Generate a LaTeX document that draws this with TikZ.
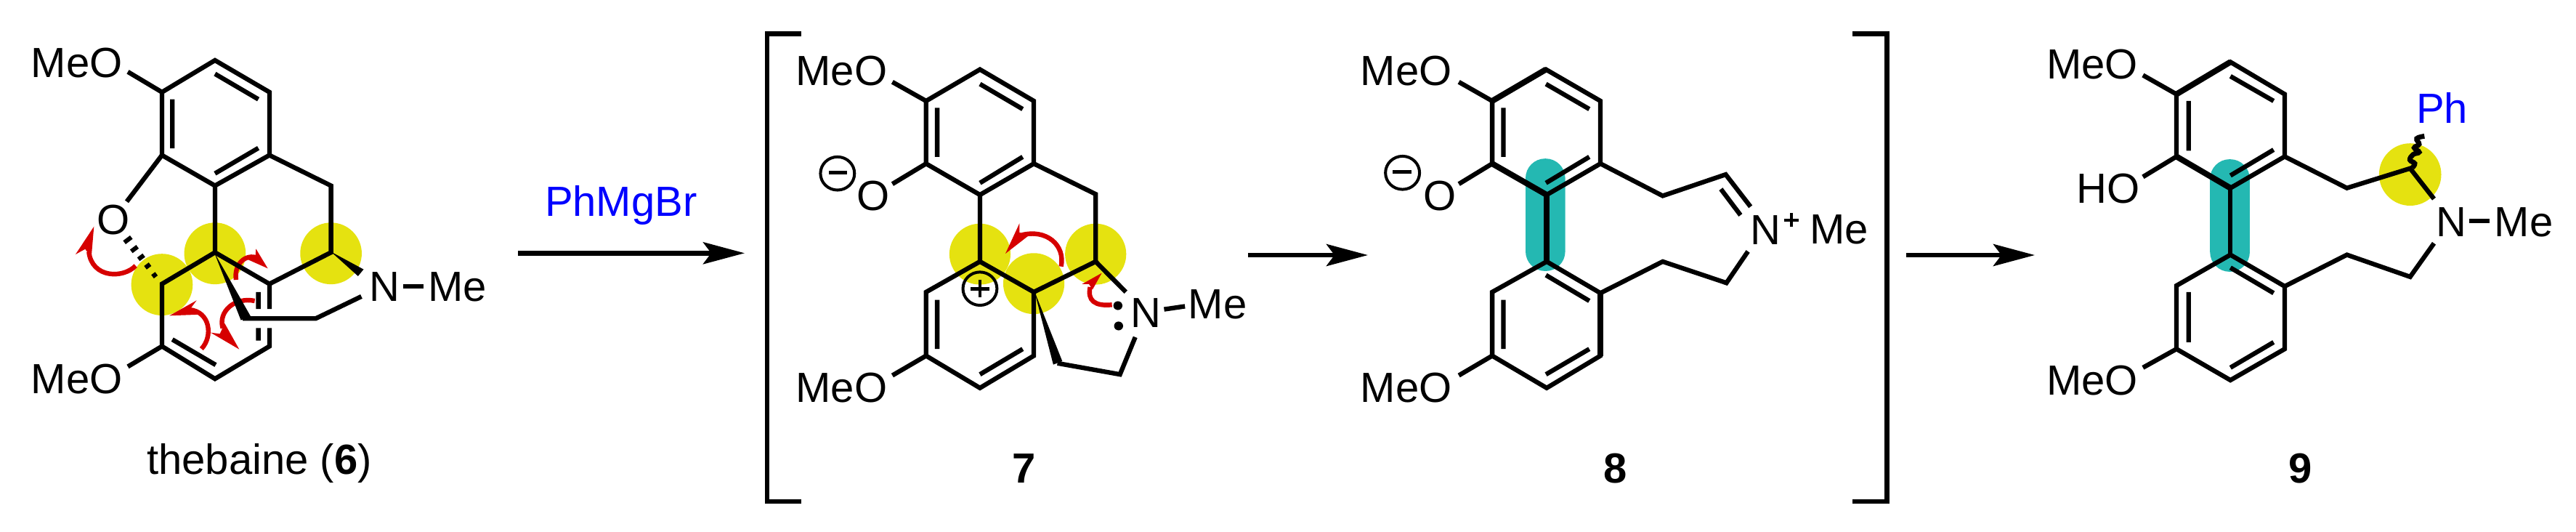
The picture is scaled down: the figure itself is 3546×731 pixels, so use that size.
\documentclass[tikz,border=0pt]{standalone}
\usepackage{fontspec}
\setmainfont{Liberation Sans}
\usetikzlibrary{arrows.meta}
\definecolor{yel}{RGB}{229,226,16}
\definecolor{teal2}{RGB}{36,184,178}
\definecolor{red2}{RGB}{214,0,0}
\definecolor{blue2}{RGB}{0,0,255}
\tikzset{
  bd/.style={draw=black,line width=6.3pt},
  fatbd/.style={draw=black,line width=8pt},
  wedgefill/.style={fill=black},
  brk/.style={draw=black,line width=6.5pt},
  rxn/.style={draw=black,line width=6.5pt,-{Stealth[length=57pt,width=30pt,inset=11pt]}},
  curv/.style={draw=red2,line width=6.4pt},
  curvhead/.style={fill=red2},
  chg/.style={draw=black,line width=4pt},
  txt/.style={inner sep=0pt,outer sep=0pt,anchor=base west,font=\fontsize{58}{60}\selectfont},
  ctr/.style={inner sep=0pt,outer sep=0pt,anchor=base,font=\fontsize{58}{60}\selectfont},
  num/.style={inner sep=0pt,outer sep=0pt,anchor=base,font=\fontsize{58}{60}\selectfont\bfseries},
}
\begin{document}
\begin{tikzpicture}[x=1pt,y=-1pt]
\useasboundingbox (0,0) rectangle (3546,731);

% ---------- molecule 6
\begin{scope}[x=.5102pt,y=-.4662pt]
\fill[yel] (437,840) ellipse [x radius=83,y radius=91];
\fill[yel] (580,748) ellipse [x radius=83,y radius=91];
\fill[yel] (893,748) ellipse [x radius=83,y radius=91];
\end{scope}
\begin{scope}[shift={(90pt,-300pt)},x=.3333pt,y=-.3333pt]
\draw[curv] (290,197) .. controls (240,250) and (110,250) .. (97,140);
\fill[curvhead] (118,35) -- (42,150) -- (82,128) -- (107,165) -- cycle;
\draw[curv] (705,255) .. controls (695,190) and (745,145) .. (795,165);
\fill[curvhead] (836,208) -- (787,127) -- (785,158) -- (755,172) -- cycle;
\draw[curv] (562,540) .. controls (610,490) and (600,385) .. (510,378);
\fill[curvhead] (430,403) -- (542,340) -- (518,372) -- (565,398) -- cycle;
\draw[curv] (782,342) .. controls (700,325) and (630,385) .. (650,455);
\fill[curvhead] (718,542) -- (600,473) -- (638,478) -- (658,435) -- cycle;
\foreach \cx/\cy/\hl in {258/90/18,285/128/16,313/162/14,340/198/12,368/236/10}{
  \draw[draw=black,line width=6pt] (\cx-.8*\hl,\cy+.6*\hl) -- (\cx+.8*\hl,\cy-.6*\hl);
}
\end{scope}
\begin{scope}[x=.5102pt,y=-.4662pt]
\draw[bd] (437,458) -- (437,272) -- (580,178) -- (727,272) -- (727,458) -- (580,548) -- cycle;
\draw[bd] (465,293) -- (465,438) (580,218) -- (697,293) (580,512) -- (697,437);
\draw[bd] (345,212) -- (437,272) (345,1082) -- (437,1022) (437,458) -- (342,595);
\draw[bd] (727,458) -- (893,548) -- (893,745) -- (727,838) -- (580,745) -- (580,548);
\draw[bd] (580,745) -- (437,838) -- (437,1022) -- (580,1118) -- (727,1022) -- (727,968);
\draw[bd] (727,838) -- (727,912) (697,862) -- (697,912) (697,968) -- (697,1005) (465,1002) -- (582,1077);
\fill[wedgefill] (578,745) -- (650,945) -- (676,933) -- cycle;
\fill[wedgefill] (893,743) -- (981,795) -- (966,815) -- cycle;
\draw[bd] (655,940) -- (852,940) -- (975,875);
\draw[bd] (1088,845) -- (1143,845);
\node[txt] (m6a) at (84,228) {MeO};
\node[ctr] (m6o) at (305,692) {O};
\node[txt] (m6b) at (84,1161) {MeO};
\node[txt] (m6n) at (997,890) {N};
\node[txt] (m6m) at (1155,890) {Me};
\node[ctr] (m6l) at (700,1400) {thebaine (\textbf{6})};
\end{scope}

% ---------- reaction arrows
\node[txt,text=blue2] (reag) at (750,297.5) {PhMgBr};
\coordinate (ar1s) at (713,348.3); \coordinate (ar1e) at (1025,348.3);
\coordinate (ar2s) at (1718,351); \coordinate (ar2e) at (1883,351);
\coordinate (ar3s) at (2624,351); \coordinate (ar3e) at (2801,351);
\draw[rxn] (ar1s) -- (ar1e);
\draw[rxn] (ar2s) -- (ar2e);
\draw[rxn] (ar3s) -- (ar3e);

% ---------- molecule 7
\begin{scope}[shift={(1050pt,0pt)},x=.4783pt,y=-.4662pt]
\fill[yel] (625,750) ellipse [x radius=88,y radius=90];
\fill[yel] (780,837) ellipse [x radius=88,y radius=90];
\fill[yel] (958,750) ellipse [x radius=88,y radius=90];
\end{scope}
\begin{scope}[shift={(1350pt,-290pt)},x=.3333pt,y=-.3333pt]
\draw[curv] (332,230) .. controls (350,140) and (270,75) .. (170,100);
\fill[curvhead] (102,177) -- (160,52) -- (160,90) -- (205,97) -- cycle;
\draw[curv] (542,388) .. controls (470,395) and (440,370) .. (452,315);
\fill[curvhead] (500,257) -- (418,303) -- (447,303) -- (462,325) -- cycle;
\end{scope}
\begin{scope}[shift={(1050pt,0pt)},x=.4783pt,y=-.4662pt]
\draw[brk] (110,100) -- (12,100) -- (12,1480) -- (110,1480);
\draw[bd] (470,483) -- (470,298) -- (625,205) -- (780,298) -- (780,483) -- (625,575) -- cycle;
\draw[bd] (502,318) -- (502,463) (625,248) -- (748,322) (625,540) -- (748,463);
\draw[bd] (373,242) -- (470,298) (373,543) -- (470,483) (373,1108) -- (470,1050);
\draw[bd] (780,483) -- (958,573) -- (958,772) -- (780,862) -- (625,772) -- (625,575);
\draw[bd] (625,772) -- (470,862) -- (470,1050) -- (625,1145) -- (780,1050) -- (780,862);
\draw[bd] (502,885) -- (502,1030) (625,1105) -- (748,1030);
\fill[wedgefill] (782,860) -- (862,1066) -- (836,1076) -- cycle;
\draw[bd] (848,1072) -- (1028,1105) -- (1072,995);
\draw[bd] (958,772) -- (1045,862);
\draw[bd] (1155,913) -- (1215,904);
\fill (1022,902) ellipse [x radius=13,y radius=13];
\fill (1024,962) ellipse [x radius=13,y radius=13];
\draw[chg] (215,512) ellipse [x radius=49,y radius=49];
\draw[chg,line width=4.8pt] (190,510) -- (242,510);
\draw[chg] (625,852) ellipse [x radius=49,y radius=49];
\draw[chg,line width=4.8pt] (598,852) -- (652,852) (625,825) -- (625,878);
\node[txt] (m7a) at (95,252) {MeO};
\node[ctr] (m7o) at (318,622) {O};
\node[txt] (m7b) at (95,1188) {MeO};
\node[txt] (m7n) at (1058,966) {N};
\node[txt] (m7m) at (1225,940) {Me};
\node[num] (m7l) at (752,1425) {7};
\end{scope}

% ---------- molecule 8
\begin{scope}[shift={(1850pt,0pt)},x=.5102pt,y=-.4662pt]
\fill[teal2,rounded corners=27pt] (490,468) rectangle (597,800);
\draw[brk] (1372,100) -- (1465,100) -- (1465,1480) -- (1372,1480);
\draw[bd] (400,483) -- (400,298) -- (545,205) -- (692,298) -- (692,483) -- (547,575) -- cycle;
\draw[fatbd] (400,298) -- (545,205) (400,483) -- (547,575);
\draw[bd] (430,318) -- (430,463) (545,248) -- (662,322) (545,540) -- (662,463);
\draw[bd] (310,242) -- (400,298) (310,543) -- (400,483) (310,1108) -- (400,1050);
\draw[fatbd] (547,575) -- (547,772);
\draw[bd] (547,772) -- (400,862) -- (400,1050) -- (547,1145) -- (692,1050) -- (692,865) -- cycle;
\draw[fatbd] (692,865) -- (692,1050);
\draw[bd] (430,885) -- (430,1030) (545,1105) -- (662,1030) (545,812) -- (662,888);
\draw[bd] (692,483) -- (860,578) -- (1030,515) -- (1097,610) (1017,558) -- (1070,635);
\draw[bd] (692,865) -- (860,772) -- (1032,835) -- (1090,742);
\draw[chg] (158,510) ellipse [x radius=46,y radius=49];
\draw[chg,line width=4.8pt] (132,508) -- (182,508);
\draw[chg] (1187,650) -- (1227,650) (1207,628) -- (1207,670);
\node[txt] (m8a) at (45,252) {MeO};
\node[ctr] (m8o) at (258,622) {O};
\node[txt] (m8b) at (45,1188) {MeO};
\node[txt] (m8n) at (1096,722) {N};
\node[txt] (m8m) at (1257,720) {Me};
\node[num] (m8l) at (733,1425) {8};
\end{scope}

% ---------- molecule 9
\begin{scope}[shift={(2800pt,0pt)},x=.4758pt,y=-.4662pt]
\fill[yel] (1088,515) ellipse [x radius=90,y radius=92];
\fill[teal2,rounded corners=27pt] (509,470) rectangle (624,802);
\draw[bd] (412,462) -- (412,278) -- (568,183) -- (725,278) -- (725,462) -- (568,555) -- cycle;
\draw[fatbd] (412,278) -- (568,183) (412,462) -- (568,555);
\draw[bd] (447,298) -- (447,445) (568,225) -- (693,298) (568,518) -- (693,442);
\draw[bd] (315,222) -- (412,278) (315,522) -- (412,462) (315,1085) -- (412,1030);
\draw[bd] (568,555) -- (568,752);
\draw[bd] (568,752) -- (412,843) -- (412,1030) -- (568,1122) -- (725,1030) -- (725,845) -- cycle;
\draw[bd] (447,862) -- (447,1010) (568,1085) -- (693,1010) (568,790) -- (693,865);
\draw[bd] (725,462) -- (905,555) -- (1088,497) -- (1157,587);
\draw[bd] (725,845) -- (905,752) -- (1088,817) -- (1157,718);
\draw[bd] (1258,652) -- (1318,652);
\node[txt] (m9a) at (36,233) {MeO};
\node[txt] (m9h) at (123,600) {HO};
\node[txt] (m9b) at (36,1166) {MeO};
\node[txt] (m9n) at (1163,698) {N};
\node[txt] (m9m) at (1332,698) {Me};
\node[txt,text=blue2] (m9p) at (1106,363) {Ph};
\node[num] (m9l) at (770,1425) {9};
\end{scope}
\begin{scope}[shift={(3280pt,-170pt)},x=.3333pt,y=-.3333pt]
\draw[draw=black,line width=6.8pt] plot[smooth,tension=.7] coordinates {(122,182) (132,165) (112,150) (125,128) (150,118) (130,100) (150,85) (140,62) (172,52)};
\end{scope}
\end{tikzpicture}
\end{document}
